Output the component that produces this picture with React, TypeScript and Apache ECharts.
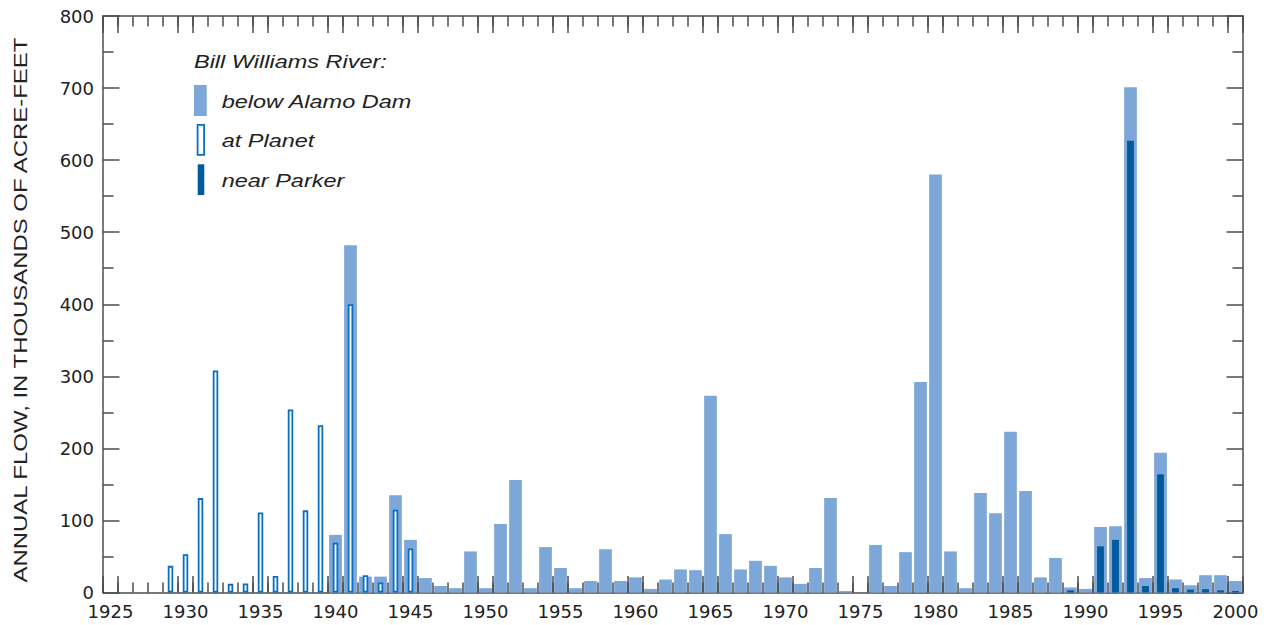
import React, { useEffect, useRef } from "react";
import * as echarts from "echarts";

const years = [
  "1925", "1926", "1927", "1928", "1929", "1930", "1931", "1932", "1933", "1934",
  "1935", "1936", "1937", "1938", "1939", "1940", "1941", "1942", "1943", "1944",
  "1945", "1946", "1947", "1948", "1949", "1950", "1951", "1952", "1953", "1954",
  "1955", "1956", "1957", "1958", "1959", "1960", "1961", "1962", "1963", "1964",
  "1965", "1966", "1967", "1968", "1969", "1970", "1971", "1972", "1973", "1974",
  "1975", "1976", "1977", "1978", "1979", "1980", "1981", "1982", "1983", "1984",
  "1985", "1986", "1987", "1988", "1989", "1990", "1991", "1992", "1993", "1994",
  "1995", "1996", "1997", "1998", "1999", "2000",
];

// Bill Williams River below Alamo Dam (thousands of acre-feet)
const belowAlamoDam = [
  null, null, null, null, null, null, null, null, null, null,
  null, null, null, null, null, 80, 482, 22, 22, 135,
  73, 20, 9, 6, 57, 6, 95, 156, 6, 63,
  34, 6, 16, 60, 16, 21, 5, 18, 32, 31,
  273, 81, 32, 44, 37, 21, 12, 34, 131, 2,
  null, 66, 9, 56, 292, 580, 57, 6, 138, 110,
  223, 141, 21, 48, 7, 5, 91, 92, 701, 20,
  194, 18, 10, 24, 24, 16,
];

// Bill Williams River at Planet
const atPlanet = [
  null, null, null, null, 37, 53, 131, 308, 12, 12.5,
  111, 23, 254, 114, 232, 69, 400, 24, 14, 115,
  61, null, null, null, null, null, null, null, null, null,
  null, null, null, null, null, null, null, null, null, null,
  null, null, null, null, null, null, null, null, null, null,
  null, null, null, null, null, null, null, null, null, null,
  null, null, null, null, null, null, null, null, null, null,
  null, null, null, null, null, null,
];

// Bill Williams River near Parker
const nearParker = [
  null, null, null, null, null, null, null, null, null, null,
  null, null, null, null, null, null, null, null, null, null,
  null, null, null, null, null, null, null, null, null, null,
  null, null, null, null, null, null, null, null, null, null,
  null, null, null, null, null, null, null, null, null, null,
  null, null, null, null, null, null, null, null, null, null,
  null, null, null, null, 3, null, 64, 73, 627, 9,
  164, 6, 4, 4.6, 3, 2,
];

const xTickLabels = [
  "1925", "1930", "1935", "1940", "1945", "1950", "1955", "1960",
  "1965", "1970", "1975", "1980", "1985", "1990", "1995", "2000",
];

const yMin = 0;
const yMax = 800;
const yInterval = 100;

const LIGHT = "#7da6d9";
const OUTLINE = "#0a6fc2";
const DARK = "#005a9c";
const AXIS = "#4d4d4d";
const TEXT = "#222222";

export default function App() {
  const ref = useRef<HTMLDivElement>(null);

  useEffect(() => {
    document.body.style.margin = "0";
    const chart = echarts.init(ref.current as HTMLDivElement, null, { renderer: "svg" });

    const lineStyle = { color: AXIS, width: 1.5 };
    const flank = (_i: number, v: string) =>
      xTickLabels.includes(v) || xTickLabels.includes(String(Number(v) - 1));

    const baseX = {
      type: "category",
      data: years,
      boundaryGap: true,
      splitLine: { show: false },
    };

    const option: any = {
      animation: false,
      backgroundColor: "#ffffff",
      grid: {
        left: 103,
        right: 28,
        top: 16,
        bottom: 32.5,
        containLabel: false,
        outerBoundsMode: "none",
      },
      xAxis: [
        {
          ...baseX,
          position: "bottom",
          axisLine: { show: true, onZero: false, lineStyle },
          axisTick: { show: true, inside: true, length: 10, interval: 0, lineStyle },
          axisLabel: {
            show: true,
            interval: (_i: number, v: string) => xTickLabels.includes(v),
            margin: 10,
            fontFamily: "DejaVu Sans",
            fontSize: 18,
            color: TEXT,
          },
        },
        {
          ...baseX,
          position: "bottom",
          axisLine: { show: false, onZero: false },
          axisTick: { show: true, inside: true, length: 16.5, interval: flank, lineStyle },
          axisLabel: { show: false },
        },
        {
          ...baseX,
          position: "top",
          axisLine: { show: true, onZero: false, lineStyle },
          axisTick: { show: true, inside: true, length: 10.5, interval: 0, lineStyle },
          axisLabel: { show: false },
        },
        {
          ...baseX,
          position: "top",
          axisLine: { show: false, onZero: false },
          axisTick: { show: true, inside: true, length: 17, interval: flank, lineStyle },
          axisLabel: { show: false },
        },
      ],
      yAxis: [
        {
          type: "value",
          position: "left",
          min: yMin,
          max: yMax,
          interval: yInterval,
          axisLine: { show: true, lineStyle },
          axisTick: { show: true, inside: true, length: 16.5, lineStyle },
          minorTick: { show: true, splitNumber: 2, length: 10.5, lineStyle },
          axisLabel: {
            margin: 9,
            fontFamily: "DejaVu Sans",
            fontSize: 18,
            color: TEXT,
          },
          splitLine: { show: false },
          minorSplitLine: { show: false },
        },
        {
          type: "value",
          position: "right",
          min: yMin,
          max: yMax,
          interval: yInterval,
          axisLine: { show: true, lineStyle },
          axisTick: { show: true, inside: true, length: 16.5, lineStyle },
          minorTick: { show: true, splitNumber: 2, length: 10.5, lineStyle },
          axisLabel: { show: false },
          splitLine: { show: false },
          minorSplitLine: { show: false },
        },
      ],
      series: [
        {
          type: "bar",
          name: "below Alamo Dam",
          xAxisIndex: 0,
          yAxisIndex: 0,
          data: belowAlamoDam,
          barWidth: 12.7,
          itemStyle: { color: LIGHT },
          z: 2,
        },
        {
          type: "bar",
          name: "at Planet",
          xAxisIndex: 1,
          yAxisIndex: 0,
          data: atPlanet,
          barWidth: 5.5,
          itemStyle: { color: "#ffffff", borderColor: OUTLINE, borderWidth: 1.8 },
          z: 3,
        },
        {
          type: "bar",
          name: "near Parker",
          xAxisIndex: 2,
          yAxisIndex: 0,
          data: nearParker,
          barWidth: 6.8,
          itemStyle: { color: DARK },
          z: 4,
        },
      ],
      graphic: [
        {
          type: "text",
          x: 194,
          y: 61.5,
          scaleX: 1.27,
          style: {
            text: "Bill Williams River:",
            fontFamily: "Liberation Sans",
            fontStyle: "italic",
            fontSize: 18.5,
            fill: TEXT,
            align: "left",
            verticalAlign: "middle",
            textAlign: "left",
            textVerticalAlign: "middle",
          },
        },
        {
          type: "rect",
          shape: { x: 194, y: 85, width: 12.7, height: 31 },
          style: { fill: LIGHT },
        },
        {
          type: "text",
          x: 221.7,
          y: 101.5,
          scaleX: 1.27,
          style: {
            text: "below Alamo Dam",
            fontFamily: "Liberation Sans",
            fontStyle: "italic",
            fontSize: 18.5,
            fill: TEXT,
            align: "left",
            verticalAlign: "middle",
            textAlign: "left",
            textVerticalAlign: "middle",
          },
        },
        {
          type: "rect",
          shape: { x: 197.6, y: 124.9, width: 6.5, height: 29.9 },
          style: { fill: "#ffffff", stroke: OUTLINE, lineWidth: 1.8 },
        },
        {
          type: "text",
          x: 221.7,
          y: 140,
          scaleX: 1.27,
          style: {
            text: "at Planet",
            fontFamily: "Liberation Sans",
            fontStyle: "italic",
            fontSize: 18.5,
            fill: TEXT,
            align: "left",
            verticalAlign: "middle",
            textAlign: "left",
            textVerticalAlign: "middle",
          },
        },
        {
          type: "rect",
          shape: { x: 197.7, y: 164.3, width: 6.6, height: 30.7 },
          style: { fill: DARK },
        },
        {
          type: "text",
          x: 221.7,
          y: 180,
          scaleX: 1.27,
          style: {
            text: "near Parker",
            fontFamily: "Liberation Sans",
            fontStyle: "italic",
            fontSize: 18.5,
            fill: TEXT,
            align: "left",
            verticalAlign: "middle",
            textAlign: "left",
            textVerticalAlign: "middle",
          },
        },
        {
          type: "text",
          x: 21,
          y: 310,
          rotation: Math.PI / 2,
          scaleX: 1.33,
          style: {
            text: "ANNUAL FLOW, IN THOUSANDS OF ACRE-FEET",
            fontFamily: "Liberation Sans",
            fontSize: 18,
            fill: TEXT,
            align: "center",
            verticalAlign: "middle",
            textAlign: "center",
            textVerticalAlign: "middle",
          },
        },
      ],
    };

    chart.setOption(option);
    return () => {
      chart.dispose();
    };
  }, []);

  return <div ref={ref} style={{ width: 1271, height: 625 }} />;
}
